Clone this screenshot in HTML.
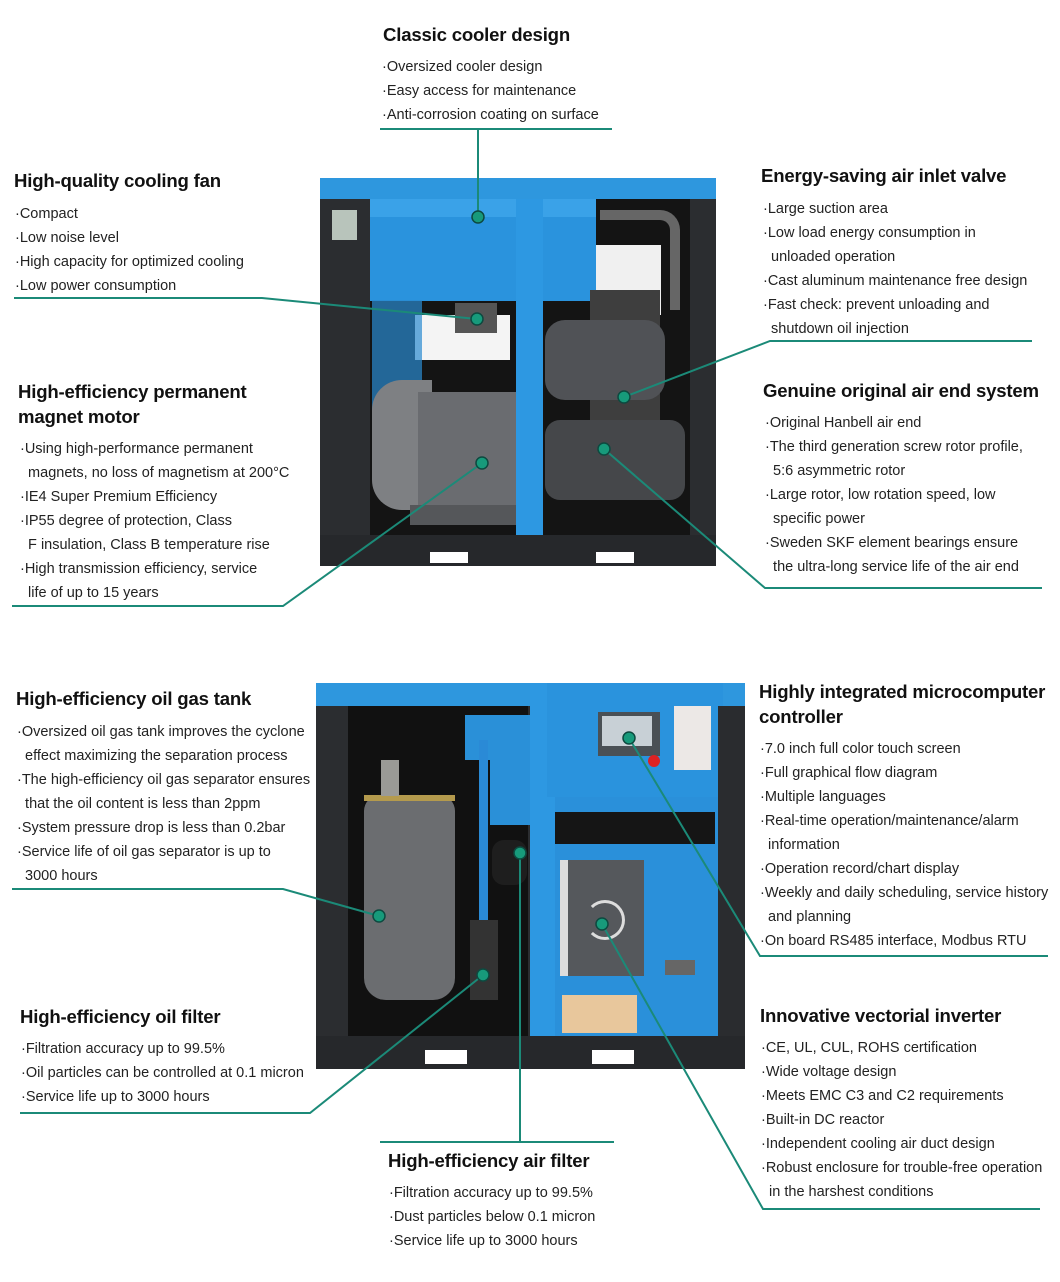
<!DOCTYPE html>
<html><head><meta charset="utf-8"><style>
*{margin:0;padding:0;box-sizing:border-box}
body{width:1060px;height:1282px;background:#fff;position:relative;overflow:hidden;font-family:"Liberation Sans",sans-serif;color:#1a1a1a}
.a{position:absolute}
.h{position:absolute;font-size:18.6px;font-weight:bold;line-height:25px;color:#111;letter-spacing:-0.2px}
.b{position:absolute;font-size:14.5px;line-height:24px;color:#222;white-space:nowrap}
</style></head><body>

<!-- TOP MACHINE -->
<div class="a" style="left:320px;top:178px;width:396px;height:388px;background:#2b2d30"></div>
<div class="a" style="left:320px;top:178px;width:396px;height:21px;background:#2e97de"></div>
<div class="a" style="left:332px;top:210px;width:25px;height:30px;background:#b8c4bb"></div>
<div class="a" style="left:370px;top:199px;width:320px;height:336px;background:#141414"></div>
<div class="a" style="left:370px;top:199px;width:226px;height:102px;background:#2a93dd"></div>
<div class="a" style="left:370px;top:199px;width:226px;height:18px;background:#3aa2e8"></div>
<div class="a" style="left:415px;top:315px;width:95px;height:45px;background:#f4f4f4"></div>
<div class="a" style="left:596px;top:245px;width:65px;height:70px;background:#f0f0f0"></div>
<div class="a" style="left:372px;top:300px;width:50px;height:110px;background:#2a8ad0;opacity:.7"></div>
<div class="a" style="left:455px;top:303px;width:42px;height:30px;background:#555"></div>
<div class="a" style="left:600px;top:210px;width:80px;height:100px;border:10px solid #666;border-left:none;border-bottom:none;border-radius:0 20px 0 0"></div>
<div class="a" style="left:590px;top:290px;width:70px;height:160px;background:#3e3e3e"></div>
<div class="a" style="left:545px;top:320px;width:120px;height:80px;background:#505256;border-radius:20px"></div>
<div class="a" style="left:545px;top:420px;width:140px;height:80px;background:#45474a;border-radius:15px"></div>
<div class="a" style="left:372px;top:380px;width:60px;height:130px;background:#7e8083;border-radius:30px 0 0 30px"></div>
<div class="a" style="left:418px;top:392px;width:110px;height:115px;background:#6a6c70"></div>
<div class="a" style="left:410px;top:505px;width:110px;height:20px;background:#55575a"></div>
<div class="a" style="left:516px;top:199px;width:27px;height:345px;background:#2d98e2"></div>
<div class="a" style="left:320px;top:535px;width:396px;height:31px;background:#26282b"></div>
<div class="a" style="left:430px;top:552px;width:38px;height:11px;background:#fff"></div>
<div class="a" style="left:596px;top:552px;width:38px;height:11px;background:#fff"></div>

<!-- BOTTOM MACHINE -->
<div class="a" style="left:316px;top:683px;width:429px;height:386px;background:#2b2d30"></div>
<div class="a" style="left:316px;top:683px;width:429px;height:23px;background:#2e97de"></div>
<div class="a" style="left:348px;top:706px;width:180px;height:330px;background:#111"></div>
<div class="a" style="left:465px;top:715px;width:65px;height:45px;background:#2a90d8"></div>
<div class="a" style="left:490px;top:735px;width:40px;height:90px;background:#2a90d8"></div>
<div class="a" style="left:479px;top:740px;width:9px;height:190px;background:#2a8ad6"></div>
<div class="a" style="left:364px;top:795px;width:91px;height:205px;background:#6b6d70;border-radius:16px 16px 22px 22px"></div>
<div class="a" style="left:364px;top:795px;width:91px;height:6px;background:#b49a4d"></div>
<div class="a" style="left:381px;top:760px;width:18px;height:36px;background:#9a9a96"></div>
<div class="a" style="left:470px;top:920px;width:28px;height:80px;background:#333"></div>
<div class="a" style="left:492px;top:840px;width:35px;height:45px;background:#1e1e1e;border-radius:12px"></div>
<div class="a" style="left:530px;top:683px;width:26px;height:355px;background:#2d98e2"></div>
<div class="a" style="left:547px;top:683px;width:176px;height:114px;background:#2a93dd"></div>
<div class="a" style="left:598px;top:712px;width:62px;height:44px;background:#4a5055"></div>
<div class="a" style="left:602px;top:716px;width:50px;height:30px;background:#c8d0d6"></div>
<div class="a" style="left:674px;top:706px;width:37px;height:64px;background:#ece8e6"></div>
<div class="a" style="left:648px;top:755px;width:12px;height:12px;background:#d22;border-radius:50%"></div>
<div class="a" style="left:555px;top:797px;width:163px;height:240px;background:#2a90da"></div>
<div class="a" style="left:555px;top:812px;width:160px;height:32px;background:#151515"></div>
<div class="a" style="left:560px;top:860px;width:84px;height:116px;background:#55585c"></div>
<div class="a" style="left:560px;top:860px;width:8px;height:116px;background:#ddd"></div>
<div class="a" style="left:585px;top:900px;width:40px;height:40px;border:3px solid #ddd;border-radius:50%;border-left-color:transparent"></div>
<div class="a" style="left:562px;top:995px;width:75px;height:38px;background:#e8c79c"></div>
<div class="a" style="left:665px;top:960px;width:30px;height:15px;background:#666"></div>
<div class="a" style="left:718px;top:706px;width:27px;height:330px;background:#2a2c2f"></div>
<div class="a" style="left:316px;top:1036px;width:429px;height:33px;background:#26282b"></div>
<div class="a" style="left:425px;top:1050px;width:42px;height:14px;background:#fff"></div>
<div class="a" style="left:592px;top:1050px;width:42px;height:14px;background:#fff"></div>

<!-- LINES -->
<svg class="a" style="left:0;top:0" width="1060" height="1282">
<g fill="none" stroke="#1b8a78" stroke-width="2">
<polyline points="380,129 612,129"/><polyline points="478,129 478,217"/>
<polyline points="14,298 262,298 477,319"/>
<polyline points="1032,341 770,341 624,397"/>
<polyline points="12,606 283,606 482,463"/>
<polyline points="1042,588 765,588 604,449"/>
<polyline points="12,889 283,889 379,916"/>
<polyline points="1048,956 760,956 629,738"/>
<polyline points="20,1113 310,1113 483,975"/>
<polyline points="1040,1209 763,1209 602,924"/>
<polyline points="380,1142 614,1142"/><polyline points="520,1142 520,853"/>
</g>
<g fill="#179a7b" stroke="#0d4a40" stroke-width="1.5">
<circle cx="478" cy="217" r="6"/><circle cx="477" cy="319" r="6"/><circle cx="624" cy="397" r="6"/>
<circle cx="482" cy="463" r="6"/><circle cx="604" cy="449" r="6"/><circle cx="379" cy="916" r="6"/>
<circle cx="629" cy="738" r="6"/><circle cx="483" cy="975" r="6"/><circle cx="602" cy="924" r="6"/>
<circle cx="520" cy="853" r="6"/>
</g></svg>

<!-- TEXT -->
<div class="h" style="left:383px;top:22px">Classic cooler design</div>
<div class="b" style="left:382px;top:55px">·Oversized cooler design<br>·Easy access for maintenance<br>·Anti-corrosion coating on surface</div>

<div class="h" style="left:14px;top:168px">High-quality cooling fan</div>
<div class="b" style="left:15px;top:202px">·Compact<br>·Low noise level<br>·High capacity for optimized cooling<br>·Low power consumption</div>

<div class="h" style="left:761px;top:163px">Energy-saving air inlet valve</div>
<div class="b" style="left:763px;top:197px">·Large suction area<br>·Low load energy consumption in<br>&nbsp;&nbsp;unloaded operation<br>·Cast aluminum maintenance free design<br>·Fast check: prevent unloading and<br>&nbsp;&nbsp;shutdown oil injection</div>

<div class="h" style="left:18px;top:379px">High-efficiency permanent<br>magnet motor</div>
<div class="b" style="left:20px;top:437px">·Using high-performance permanent<br>&nbsp;&nbsp;magnets, no loss of magnetism at 200°C<br>·IE4 Super Premium Efficiency<br>·IP55 degree of protection, Class<br>&nbsp;&nbsp;F insulation, Class B temperature rise<br>·High transmission efficiency, service<br>&nbsp;&nbsp;life of up to 15 years</div>

<div class="h" style="left:763px;top:378px">Genuine original air end system</div>
<div class="b" style="left:765px;top:411px">·Original Hanbell air end<br>·The third generation screw rotor profile,<br>&nbsp;&nbsp;5:6 asymmetric rotor<br>·Large rotor, low rotation speed, low<br>&nbsp;&nbsp;specific power<br>·Sweden SKF element bearings ensure<br>&nbsp;&nbsp;the ultra-long service life of the air end</div>

<div class="h" style="left:16px;top:686px">High-efficiency oil gas tank</div>
<div class="b" style="left:17px;top:720px">·Oversized oil gas tank improves the cyclone<br>&nbsp;&nbsp;effect maximizing the separation process<br>·The high-efficiency oil gas separator ensures<br>&nbsp;&nbsp;that the oil content is less than 2ppm<br>·System pressure drop is less than 0.2bar<br>·Service life of oil gas separator is up to<br>&nbsp;&nbsp;3000 hours</div>

<div class="h" style="left:759px;top:679px">Highly integrated microcomputer<br>controller</div>
<div class="b" style="left:760px;top:737px">·7.0 inch full color touch screen<br>·Full graphical flow diagram<br>·Multiple languages<br>·Real-time operation/maintenance/alarm<br>&nbsp;&nbsp;information<br>·Operation record/chart display<br>·Weekly and daily scheduling, service history<br>&nbsp;&nbsp;and planning<br>·On board RS485 interface, Modbus RTU</div>

<div class="h" style="left:20px;top:1004px">High-efficiency oil filter</div>
<div class="b" style="left:21px;top:1037px">·Filtration accuracy up to 99.5%<br>·Oil particles can be controlled at 0.1 micron<br>·Service life up to 3000 hours</div>

<div class="h" style="left:760px;top:1003px">Innovative vectorial inverter</div>
<div class="b" style="left:761px;top:1036px">·CE, UL, CUL, ROHS certification<br>·Wide voltage design<br>·Meets EMC C3 and C2 requirements<br>·Built-in DC reactor<br>·Independent cooling air duct design<br>·Robust enclosure for trouble-free operation<br>&nbsp;&nbsp;in the harshest conditions</div>

<div class="h" style="left:388px;top:1148px">High-efficiency air filter</div>
<div class="b" style="left:389px;top:1181px">·Filtration accuracy up to 99.5%<br>·Dust particles below 0.1 micron<br>·Service life up to 3000 hours</div>
</body></html>
